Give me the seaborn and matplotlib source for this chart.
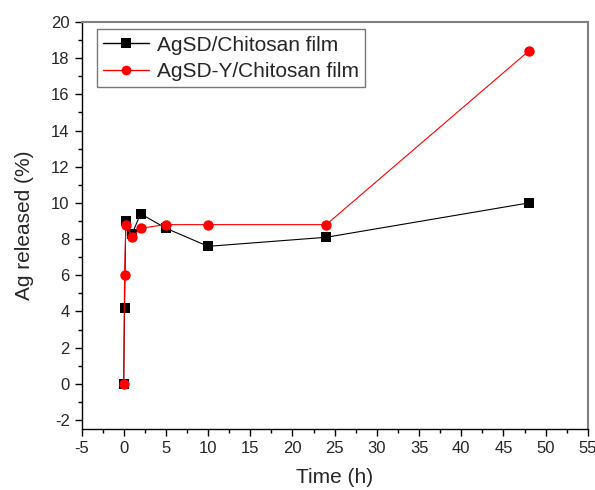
import matplotlib
matplotlib.use("Agg")
import matplotlib.pyplot as plt
from matplotlib.ticker import MultipleLocator
import seaborn as sns
import pandas as pd

time_h = [0, 0.1, 0.25, 1, 2, 5, 10, 24, 48]
agsd = [0, 4.2, 9.0, 8.3, 9.4, 8.6, 7.6, 8.1, 10.0]
agsd_y = [0, 6.0, 8.8, 8.1, 8.6, 8.8, 8.8, 8.8, 18.4]
series_names = ["AgSD/Chitosan film", "AgSD-Y/Chitosan film"]

sns.set_theme(style="white")
plt.rcParams["font.family"] = ["Liberation Sans", "DejaVu Sans"]
plt.rcParams["axes.unicode_minus"] = False

df = pd.DataFrame({
    "Time": time_h * 2,
    "Ag": agsd + agsd_y,
    "Series": [series_names[0]] * len(time_h) + [series_names[1]] * len(time_h),
})

fig = plt.figure(figsize=(5.95, 4.9), dpi=100)
ax = fig.add_axes([0.137, 0.1245, 0.851, 0.8305])

sns.lineplot(data=df, x="Time", y="Ag", hue="Series", style="Series",
             palette={series_names[0]: "black", series_names[1]: "red"},
             markers={series_names[0]: "s", series_names[1]: "o"},
             dashes=False, sort=False, linewidth=0.8, markersize=7.5,
             markeredgewidth=0, ax=ax)

ax.set_xlim(-5, 55)
ax.set_ylim(-2.5, 20)
ax.xaxis.set_major_locator(MultipleLocator(5))
ax.xaxis.set_minor_locator(MultipleLocator(2.5))
ax.yaxis.set_major_locator(MultipleLocator(2))
ax.yaxis.set_minor_locator(MultipleLocator(1))
ax.tick_params(axis="both", which="major", direction="out", length=5, width=1,
               labelsize=12, color="black", bottom=True, left=True, top=False, right=False)
ax.tick_params(axis="both", which="minor", direction="out", length=3, width=1,
               color="black", bottom=True, left=True, top=False, right=False)

for s in ["left", "bottom"]:
    ax.spines[s].set_color("black")
    ax.spines[s].set_linewidth(1.0)
for s in ["top", "right"]:
    ax.spines[s].set_color("#808080")
    ax.spines[s].set_linewidth(1.5)

ax.set_xlabel("Time (h)", fontsize=15, labelpad=9)
ax.set_ylabel("Ag released (%)", fontsize=15, labelpad=12)

leg = ax.legend(loc="upper left", bbox_to_anchor=(0.03, 0.982), borderaxespad=0,
                fontsize=15, frameon=True, fancybox=False, edgecolor="#555555",
                handlelength=2.2, borderpad=0.3, labelspacing=0.35, handletextpad=0.4)
leg.get_frame().set_linewidth(1.0)
for h in leg.legend_handles:
    h.set_markersize(7)
    h.set_linewidth(1.0)

fig.savefig("out.png", dpi=100)
